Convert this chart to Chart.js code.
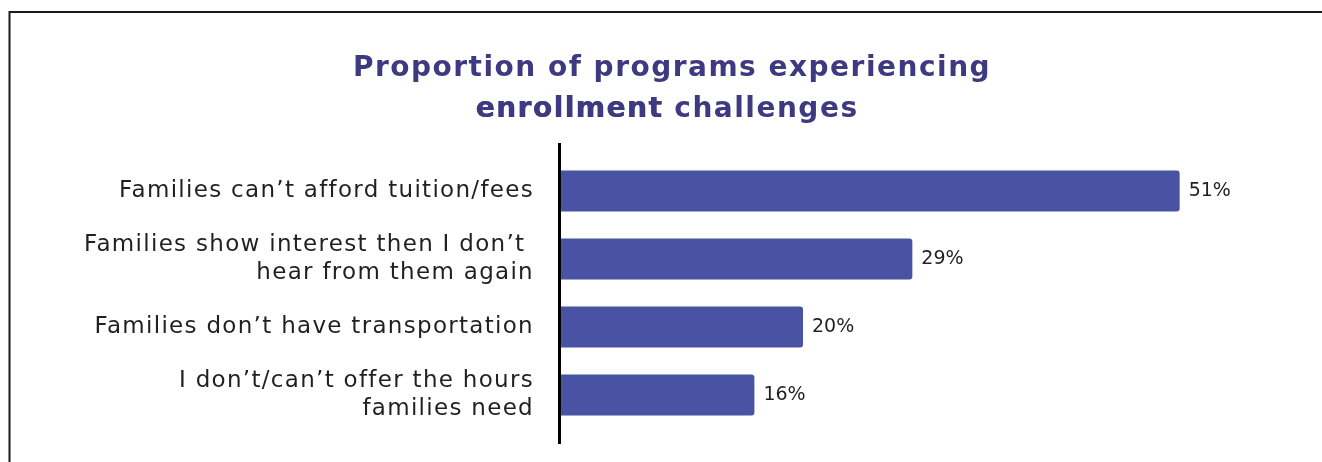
<!DOCTYPE html>
<html>
<head>
    <title>Enrollment Challenges</title>
    <script src="https://cdn.jsdelivr.net/npm/chart.js"></script>
    <style>
        body { margin: 0; background: #fff; }
        #wrap { width: 1322px; height: 462px; position: relative; }
    </style>
</head>
<body>
    <div id="wrap"><canvas id="myChart" width="1322" height="462"></canvas></div>
    <script>
        const categories = [
            ['Families can\u2019t afford tuition/fees'],
            ['Families show interest then I don\u2019t ', 'hear from them again'],
            ['Families don\u2019t have transportation'],
            ['I don\u2019t/can\u2019t offer the hours', 'families need']
        ];
        const percents = [51, 29, 20, 16];

        const BAR_COLOR = '#4953a3';
        const TITLE_COLOR = '#3e3a82';
        const TEXT_COLOR = '#231f20';
        const FONT = '"DejaVu Sans", sans-serif';

        // frame lines, two-weight title, axis line and value labels
        const decorations = {
            id: 'decorations',
            beforeDraw(chart) {
                const ctx = chart.ctx;
                ctx.save();
                ctx.fillStyle = '#fff';
                ctx.fillRect(0, 0, chart.width, chart.height);
                ctx.strokeStyle = '#1a1a1a';
                ctx.lineWidth = 2;
                ctx.beginPath();
                ctx.moveTo(9.5, chart.height);
                ctx.lineTo(9.5, 12);
                ctx.lineTo(chart.width, 12);
                ctx.stroke();

                ctx.fillStyle = TITLE_COLOR;
                ctx.textBaseline = 'alphabetic';
                ctx.textAlign = 'left';
                ctx.font = 'bold 28px ' + FONT;
                ctx.letterSpacing = '1.5px';
                const line1 = 'Proportion of programs experiencing';
                const w1 = ctx.measureText(line1).width;
                ctx.fillText(line1, 672 - w1 / 2, 76);

                // "enrollment" is set a touch heavier than the rest
                const a = 'enrollment', b = ' challenges';
                const wa = ctx.measureText(a).width;
                const wb = ctx.measureText(b).width;
                const x = 667 - (wa + wb) / 2;
                ctx.fillText(a, x, 117);
                ctx.fillText(a, x + 0.7, 117);
                ctx.fillText(b, x + wa, 117);
                ctx.restore();

                // wider tracking for the axis labels
                ctx.letterSpacing = '1.3px';
            },
            afterDatasetsDraw(chart) {
                const ctx = chart.ctx;
                const area = chart.chartArea;
                ctx.save();
                ctx.letterSpacing = '0px';
                ctx.fillStyle = '#000';
                ctx.fillRect(area.left - 2, area.top - 14, 3, area.bottom - area.top + 29);

                ctx.fillStyle = TEXT_COLOR;
                ctx.font = '19px ' + FONT;
                ctx.textAlign = 'left';
                ctx.textBaseline = 'middle';
                chart.getDatasetMeta(0).data.forEach((bar, i) => {
                    ctx.fillText(percents[i] + '%', bar.x + 9, bar.y);
                });
                ctx.restore();
            },
            afterDraw(chart) {
                chart.ctx.letterSpacing = '0px';
            }
        };

        const ctx = document.getElementById('myChart').getContext('2d');
        new Chart(ctx, {
            type: 'bar',
            data: {
                labels: categories,
                datasets: [{
                    data: percents,
                    backgroundColor: BAR_COLOR,
                    borderRadius: 3,
                    barPercentage: 0.6,
                    categoryPercentage: 1
                }]
            },
            options: {
                indexAxis: 'y',
                responsive: false,
                animation: false,
                layout: { padding: { left: 10, top: 157, right: 33, bottom: 33 } },
                plugins: {
                    legend: { display: false },
                    tooltip: { enabled: false }
                },
                scales: {
                    x: { display: false, min: 0, max: 60 },
                    y: {
                        afterFit: s => {
                            s.width = 550;
                            s.paddingTop = 0;
                            s.paddingBottom = 0;
                        },
                        border: { display: false },
                        grid: { display: false, drawTicks: false },
                        ticks: {
                            color: TEXT_COLOR,
                            padding: 26,
                            font: { family: FONT, size: 23, lineHeight: 1.25 }
                        }
                    }
                }
            },
            plugins: [decorations]
        });
    </script>
</body>
</html>
